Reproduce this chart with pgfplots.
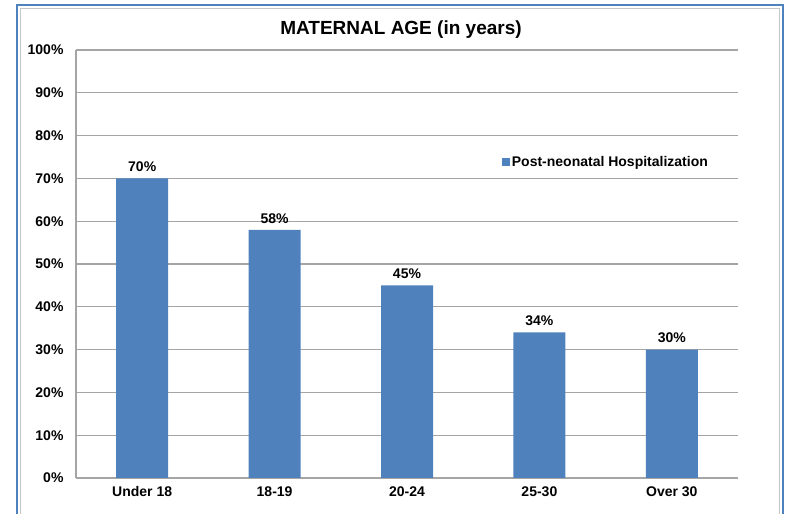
\documentclass[border=0pt]{standalone}
\usepackage{pgfplots}
\pgfplotsset{compat=1.18}
\usepackage{fontspec}
\setmainfont{Liberation Sans}
\definecolor{barblue}{RGB}{79,129,189}
\definecolor{gridgray}{RGB}{165,165,165}

\begin{document}
\begin{tikzpicture}[x=1pt,y=1pt]
\path[use as bounding box] (0,0) rectangle (788,514);
% chart frame (cut off at the bottom)
\draw[barblue, line width=1.5pt] (17,0) -- (17,509) -- (783,509) -- (783,0);
\draw[gray!45, line width=1pt] (20.5,0) -- (20.5,505.5) -- (779.5,505.5) -- (779.5,0);
\node[font=\fontsize{19}{22}\selectfont\bfseries] at (401,484) {MATERNAL AGE (in years)};
\begin{axis}[
    at={(76pt,36pt)}, anchor=south west,
    scale only axis, width=662pt, height=428pt,
    ybar, bar width=52pt,
    xmin=-0.5, xmax=4.5, ymin=0, ymax=100,
    xtick=data,
    xticklabels={Under 18, 18-19, 20-24, 25-30, Over 30},
    ytick={0,10,...,100},
    yticklabel={\pgfmathprintnumber{\tick}\%},
    /pgf/number format/assume math mode=true,
    axis x line*=bottom, axis y line*=left,
    axis line style={-, gridgray, line width=1.3pt},
    ymajorgrids, grid style={gridgray, line width=1.3pt},
    major tick length=0pt,
    tick label style={font=\fontsize{14}{16}\selectfont\bfseries},
    yticklabel style={xshift=-9pt},
    xticklabel style={yshift=-5pt},
    nodes near coords={\pgfmathprintnumber{\pgfplotspointmeta}\%},
    nodes near coords style={font=\fontsize{14}{16}\selectfont\bfseries, yshift=3pt},
    legend style={at={(rel axis cs:0.643,0.738)}, anchor=west, draw=none, fill=none,
        font=\fontsize{14}{16}\selectfont\bfseries, inner sep=0pt},
    legend image code/.code={\fill[barblue] (0pt,-4pt) rectangle (8pt,4pt);},
]
\addplot[fill=barblue, draw=none] coordinates {
    (0,70) (1,58) (2,45) (3,34) (4,30)
};
\addlegendentry{Post-neonatal Hospitalization}
\end{axis}
\end{tikzpicture}
\end{document}
